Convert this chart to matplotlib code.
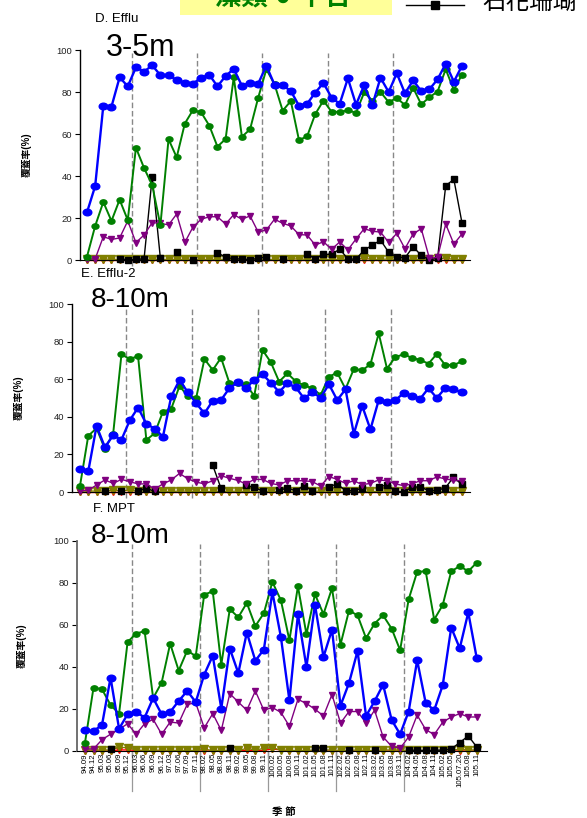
import numpy as np
import matplotlib
matplotlib.use("Agg")
import matplotlib.pyplot as plt
from matplotlib.path import Path
import matplotlib.transforms as mtransforms

plt.rcParams['font.family'] = ['Liberation Sans', 'Noto Sans CJK TC', 'DejaVu Sans']

nan = np.nan
seasons = ['94.09','94.12','95.03','95.06','95.09','95.12','96.03','96.06','96.09','96.12',
           '97.03','97.06','97.09','97.11','98.02','98.05','98.08','98.11','99.02','99.05',
           '99.08','99.11','100.02','100.05','100.08','100.11','101.02','101.05','101.08','101.11',
           '102.02','102.05','102.08','102.11','103.02','103.05','103.08','103.11','104.02','104.05',
           '104.08','104.11','105.02','105.05','105.07.20','105.08','105.11']
group_breaks = [5.5, 13.5, 21.5, 29.5, 37.5]

# ---- Panel D (3-5m) ----
blue_D = [22.7,35.2,73.5,73,87,82.7,91.7,89.7,92.7,88,
          88,85.7,84.4,84,86.8,88.2,82.7,87.6,91,83,
          84.4,84,92.5,83.5,83.2,80.5,73.5,74.4,79.7,84.3,
          77.3,74.4,86.5,74,83.2,73.7,86.8,80,88.9,79.4,
          85.5,80.5,81.3,86,93.5,84.9,92.5]
green_D = [1.6,16.2,27.6,18.6,28.7,19,53.5,43.8,35.6,16.5,
           57.5,48.9,65,71.4,70.3,64,54,57.6,87,58.7,
           62.2,77.3,90.8,83.7,71.1,75.7,57.1,58.9,69.5,75.9,
           70.6,70.5,71.3,70.1,79.8,75.9,80,75.2,77.1,73.8,
           82,74.1,77.5,80.2,90.8,81,88.3]
purple_D = [0.5,0.5,11.1,9.8,10.5,18.6,8.3,11.9,17.8,17.5,
            16.7,21.9,8.4,15.7,19.4,20.6,20.6,17.1,21.6,19.4,
            21,13.3,14.3,19.4,17.5,16.2,12.1,11.9,7.1,8.7,
            5.1,8.6,4.8,10,14.9,13.7,13.3,8.4,12.7,5.4,
            12.4,14.9,0.8,1.3,17.1,7.6,12.4]
black_D = [nan,nan,nan,nan,0.5,0.2,0.3,0.6,39.7,0.8,
           nan,3.8,nan,0.2,nan,nan,3.5,1.3,0.6,0.5,
           0.2,0.8,1.3,nan,0.5,nan,nan,2.7,0.6,2.7,
           2.7,5.2,0.5,0.4,4.8,7,9.5,3.7,1.4,1,
           6.3,2.2,0,0.8,35.4,38.4,17.6]
red_D = [0]*47
olive_D = [0.3,0.3,0.5,0.3,0.3,0.3,0.3,0.3,0.3,0.3,
           0.3,0.3,0.3,0.3,0.3,0.3,0.3,0.3,0.3,0.3,
           0.3,0.3,0.3,0.3,0.3,0.5,0.5,0.3,0.3,0.3,
           0.3,0.3,0.3,0.3,0.8,0.3,0.3,0.5,0.3,0.5,
           0.3,0.3,0.5,0.8,0.8,0.3,0.3]

# ---- Panel E (8-10m) ----
blue_E = [12.1,11,35.1,23.9,30.1,27.8,38.1,44.9,36.2,33.7,
          29.4,50.9,59.6,53,47.2,41.8,48.6,48.9,55.2,58.3,
          55.2,59.6,62.6,58.1,53.2,57.8,55.7,49.8,53,50.2,
          57.3,48.9,54.6,30.9,45.9,33.3,48.9,47.9,48.9,52.5,
          51.2,49.6,55.2,50,55.2,54.6,53]
green_E = [3.2,29.9,33.9,22.9,31,73.2,70.7,72.3,27.7,31.2,
           42.7,44.3,56.4,50.9,50,70.7,64.9,71.4,58.1,57.8,
           57.3,51.1,75.5,69,58.7,63.1,58.9,56.7,55.2,51.6,
           61.3,63.5,54.8,65.4,64.7,67.9,84.4,65.6,71.8,73.2,
           71.4,70.2,68.3,73.4,67.6,67.4,69.5]
purple_E = [0.5,1,3.7,6.4,4.6,6.7,5.5,4.3,4.3,1.6,
            4.3,6.4,9.9,7,5.3,4.3,6,8.7,7.3,6.2,
            4.3,6.7,6.7,4.6,3.7,6,6,6,5.5,3.2,
            8.2,6.7,4.6,6,3.9,4.6,6.4,6,4.3,3.4,
            4.3,6,6,8,7,6.2,6]
black_E = [nan,nan,nan,0.7,nan,0.7,nan,0.7,1.9,0.4,
           nan,nan,nan,nan,nan,nan,14.2,1.9,nan,nan,
           3.5,2.5,0.5,nan,1,2,0.7,3.4,0.7,nan,
           2.8,4.3,0.7,0.7,2,nan,2.5,3.9,0.5,0,
           2.5,2.8,0.7,1,2,7.8,4.1]
red_E = [0]*47
olive_E = [0.5,0.5,0.5,0.5,0.8,0.8,0.8,0.5,0.5,0.3,
           0.3,0.3,0.5,0.5,0.3,0.3,0.3,0.3,0.3,0.5,
           0.3,0.3,0.5,0.3,0.3,0.3,0.5,0.5,0.3,0.5,
           0.5,0.3,0.3,0.3,0.3,0.3,0.3,0.5,0.3,0.3,
           0.3,0.3,0.3,0.3,0.3,0.3,0.3]

# ---- Panel F (8-10m) ----
blue_F = [9.8,9.4,12.5,34.9,10.6,17.5,18.6,15.9,25.2,17.5,
          18.6,23.8,28.6,23.3,36.4,45.4,20.2,48.8,37.1,56.4,
          43,48.3,75.6,54.3,24.1,65.1,40,69.7,44.8,57.8,
          21.6,32.4,47.6,16.7,23.7,31.6,14.8,8,18.8,43.2,
          22.9,19.4,31.3,58.8,48.9,66,44.1]
green_F = [4,30.2,29.4,21.9,17.8,51.9,55.9,57.1,25.2,32.6,
           51.1,38.3,47.8,45.2,74.5,76,41.1,67.5,63.7,70.5,
           59.5,65.6,80.5,71.8,52.7,78.4,55.6,74.6,65.2,77.5,
           50.7,66.9,64.6,53.7,60.7,64.6,58.3,48,72.2,85.3,
           85.6,62.6,69.5,85.6,88,85.6,89.7]
purple_F = [1,1,5.4,8,10.3,13,8,13,15.1,8,
            13.8,13.3,22.2,22.9,11,17.8,9.8,27.3,23.3,19.4,
            28.6,19.4,20.7,18.4,11.8,24.6,22.6,19.9,16.7,26.9,
            13.3,18.8,18.8,13.3,19.4,6.7,2.2,1.3,6.7,17.1,
            10.2,7.8,13.7,16.2,17.8,16.2,16.2]
black_F = [nan,nan,nan,0.8,nan,nan,nan,nan,nan,nan,
           nan,nan,nan,nan,nan,nan,nan,1.3,nan,nan,
           nan,nan,nan,nan,nan,nan,nan,1.3,1.6,nan,
           nan,0.5,nan,nan,0.5,nan,nan,nan,0.5,0.3,
           0.3,0.3,0.5,1,4,7.2,1.9]
red_F = [0,0,0,0,0.5,0.5,0.3,0,0,0,
         0,0,0,0,0,0,0,0,0,0.3,
         0,0.3,1,0.5,0,0,0,0,0,0,
         0,0,0,0,0,0,0,0,0,0,
         0,0,0,0,0,0,0]
olive_F = [0.5,0.5,0.5,0.5,1.8,1.5,0.5,0.3,0.3,0.5,
           0.3,0.3,0.3,0.3,0.8,0.3,0.3,0.3,0.3,1.2,
           0.5,1.2,1.5,0.5,0.3,0.3,0.3,0.5,0.5,0.5,
           0.3,0.3,0.5,0.3,0.3,0.5,0.5,0.5,0.3,0.3,
           0.3,0.3,0.3,0.5,0.8,0.5,0.5]

panel_titles = ['D. Efflu', 'E. Efflu-2', 'F. MPT']
depth_labels = ['3-5m', '8-10m', '8-10m']
ylabel = '覆蓋率(%)'
xlabel = '季 節'
legend_label = '石花珊瑚'
box_text = '藻類 ● 平台'

W, H = 587, 818
fig = plt.figure(figsize=(W/100, H/100), dpi=100)

def fx(px):
    return px / W

def fy(py):
    return 1 - py / H

# ellipse marker (source chart is horizontally stretched)
circ = Path.unit_circle()
ell = Path(circ.vertices * np.array([1.3, 1.0]), circ.codes)

x = np.arange(len(seasons))

# panel layout in pixels: left, right, top(100), bottom(0), xlim
layouts = [
    dict(l=80, r=470, t=50, b=260, xl=(-0.86, 46.98)),
    dict(l=72, r=470, t=304, b=492, xl=(-0.96, 47.0)),
    dict(l=77, r=487, t=541, b=751, xl=(-0.94, 47.2)),
]
data = [
    (blue_D, green_D, purple_D, black_D, red_D, olive_D),
    (blue_E, green_E, purple_E, black_E, red_E, olive_E),
    (blue_F, green_F, purple_F, black_F, red_F, olive_F),
]

axes = []
for k, (lay, d) in enumerate(zip(layouts, data)):
    ax = fig.add_axes([fx(lay['l']), fy(lay['b']), (lay['r']-lay['l'])/W, (lay['b']-lay['t'])/H])
    axes.append(ax)
    blue, green, purple, black, red, olive = d
    ax.plot(x, red, color='#FF0000', lw=1.0, marker='v', ms=4, zorder=2, clip_on=False)
    ax.plot(x, olive, color='#808000', lw=1.0, marker='v', ms=5.5, zorder=2.2, clip_on=False)
    ax.plot(x, black, color='black', lw=1.0, marker='s', ms=4.3, zorder=2.5, clip_on=False)
    ax.plot(x, purple, color='#800080', lw=1.0, marker='v', ms=5, zorder=3, clip_on=False)
    ax.plot(x, green, color='#008000', lw=1.4, marker=ell, ms=5, zorder=4, clip_on=False)
    ax.plot(x, blue, color='#0000FF', lw=1.7, marker=ell, ms=6.2, zorder=5, clip_on=False)

    ax.set_xlim(*lay['xl'])
    ax.set_ylim(0, 100)
    ax.set_yticks([0, 20, 40, 60, 80, 100])
    ax.tick_params(axis='y', direction='out', length=3.5, width=0.8, labelsize=6.8,
                   pad=2, labelcolor='#222222')
    for s in ['top', 'right']:
        ax.spines[s].set_visible(False)
    ax.spines['left'].set_linewidth(1.0)
    ax.spines['bottom'].set_linewidth(0.8)
    if k == 2:
        ax.spines['left'].set_color('#666666')
        ax.spines['left'].set_linewidth(1.3)

    trans = mtransforms.blended_transform_factory(ax.transData, ax.transAxes)
    for gb in group_breaks:
        ax.plot([gb, gb], [-0.03, 0.985], transform=trans, color='#888888', lw=1.0,
                ls=(0, (4, 2)), clip_on=False, zorder=1)

    if k == 2:
        ax.set_xticks(x)
        ax.set_xticklabels(seasons, rotation=90, fontsize=5.6)
        ax.tick_params(axis='x', length=0, pad=1.5)
        for gb in group_breaks:
            ax.plot([gb, gb], [0, -0.19], transform=trans, color='#999999', lw=0.9,
                    clip_on=False, zorder=1)
    else:
        ax.set_xticks([])

# Panel titles and depth labels
fig.text(fx(95), fy(22), panel_titles[0], fontsize=9.5, va='baseline', ha='left')
fig.text(fx(106), fy(56), depth_labels[0], fontsize=22, va='baseline', ha='left')
fig.text(fx(81), fy(277), panel_titles[1], fontsize=9.5, va='baseline', ha='left')
fig.text(fx(91), fy(307), depth_labels[1], fontsize=20, va='baseline', ha='left')
fig.text(fx(93), fy(512), panel_titles[2], fontsize=9.5, va='baseline', ha='left')
fig.text(fx(91), fy(543), depth_labels[2], fontsize=20, va='baseline', ha='left')

# y labels
for cx, cy in [(27, 155), (19, 398), (22, 646)]:
    fig.text(fx(cx), fy(cy), ylabel, rotation=90, fontsize=7, fontweight='bold',
             ha='center', va='center')

# x label
fig.text(fx(284), fy(812), xlabel, fontsize=7.5, fontweight='bold', ha='center', va='center')

# top (clipped) legend area
fig.patches.append(plt.Rectangle((fx(180), fy(15)), (392-180)/W, 15/H + 0.01,
                                 transform=fig.transFigure, facecolor='#FFFF99',
                                 edgecolor='none', zorder=0))
fig.text(fx(283), fy(5), box_text, fontsize=19, fontweight='bold', color='#008000',
         ha='center', va='baseline', zorder=1)
fig.lines.append(plt.Line2D([fx(406), fx(464)], [fy(5), fy(5)], transform=fig.transFigure,
                            color='black', lw=1.0, marker=None))
fig.lines.append(plt.Line2D([fx(435)], [fy(5)], transform=fig.transFigure,
                            color='black', marker='s', ms=6, lw=0))
fig.text(fx(482), fy(8.5), legend_label, fontsize=17, ha='left', va='baseline')

fig.savefig('out.png', dpi=100)
